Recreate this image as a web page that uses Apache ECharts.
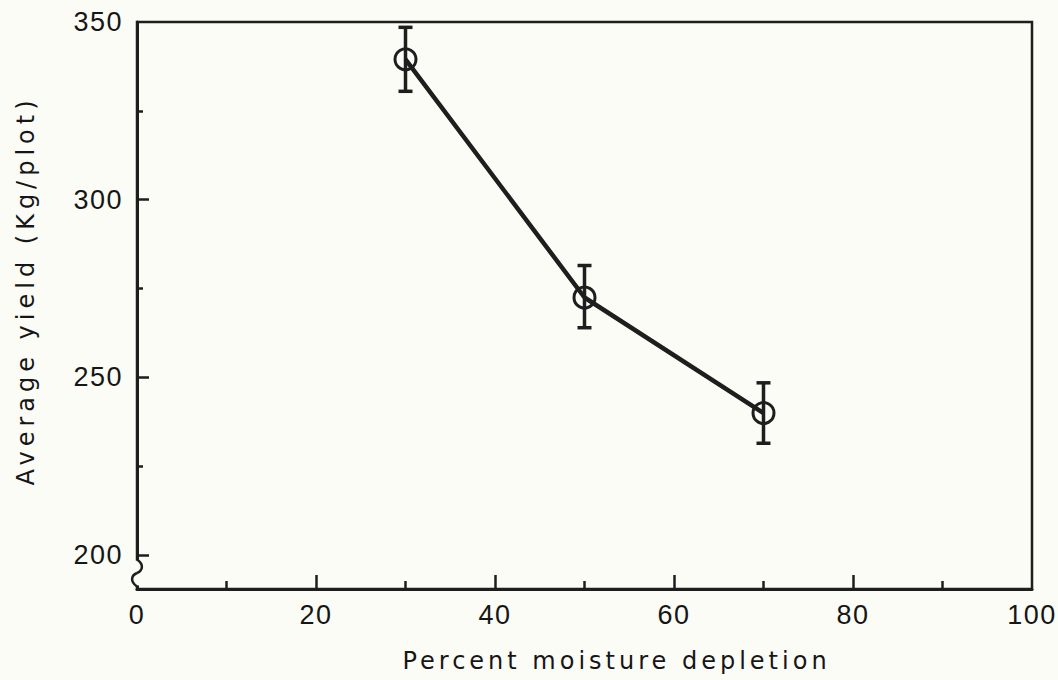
<!DOCTYPE html>
<html><head><meta charset="utf-8">
<script src="https://cdn.jsdelivr.net/npm/echarts@6/dist/echarts.min.js"></script>
<style>
html,body{margin:0;padding:0;background:#fcfcf6;}
#chart{width:1058px;height:680px;}
#chart svg text{letter-spacing:1.5px;}
</style></head><body><div id="chart"></div>
<script>
const moistureDepletion = [30, 50, 70];
const averageYield = [339.5, 272.5, 240];
const yieldLow = [330.5, 264, 231.5];
const yieldHigh = [348.5, 281.5, 248.5];
const xTickLabels = [0, 20, 40, 60, 80, 100];
const xMajorTicks = [20, 40, 60, 80];
const xMinorTicks = [10, 30, 50, 70, 90];
const yTickLabels = [200, 250, 300, 350];
const yMajorTicks = [200, 250, 300];
const yMinorTicks = [225, 275, 325];
const xTitle = 'Percent moisture depletion';
const yTitle = 'Average yield (Kg/plot)';

const INK = '#1e1e1e';
const BG = '#fcfcf6';
const labelFont = {fontSize: 27, color: '#161616', fontFamily: 'Liberation Sans'};
const titleFont = {fontSize: 24, color: '#161616', fontFamily: 'DejaVu Sans'};

const chart = echarts.init(document.getElementById('chart'), null, {renderer: 'svg'});

function xAx(major) {
  return {
    type: 'value', min: 0, max: 100, position: 'bottom',
    axisLine: {show: major, onZero: false, lineStyle: {color: INK, width: 3}},
    axisTick: {show: true, inside: true, length: major ? 14 : 8,
      customValues: major ? xMajorTicks : xMinorTicks, lineStyle: {color: INK, width: 2.5}},
    axisLabel: major ? Object.assign({customValues: xTickLabels, margin: 12}, labelFont) : {show: false},
    splitLine: {show: false},
    name: major ? xTitle : '', nameLocation: 'middle', nameGap: 60,
    nameTextStyle: Object.assign({padding: [0, 0, 0, 64]}, titleFont)
  };
}
function yAx(major) {
  return {
    type: 'value', min: 190.5, max: 350, position: 'left',
    axisLine: {show: major, onZero: false, lineStyle: {color: INK, width: 3}},
    axisTick: {show: true, inside: true, length: major ? 12 : 6,
      customValues: major ? yMajorTicks : yMinorTicks, lineStyle: {color: INK, width: 2.5}},
    axisLabel: major ? Object.assign({customValues: yTickLabels, margin: 14}, labelFont) : {show: false},
    splitLine: {show: false},
    name: major ? yTitle : '', nameLocation: 'middle', nameGap: 99,
    nameTextStyle: Object.assign({padding: [0, 0, 0, 30]}, titleFont)
  };
}

chart.setOption({
  animation: false,
  backgroundColor: BG,
  grid: {left: 137, right: 26, top: 22, bottom: 91, show: true, borderColor: INK, borderWidth: 2.5, backgroundColor: 'transparent'},
  xAxis: [xAx(true), xAx(false)],
  yAxis: [yAx(true), yAx(false)],
  series: [
    {
      type: 'custom', xAxisIndex: 0, yAxisIndex: 0,
      data: moistureDepletion.map((x, i) => [x, yieldLow[i], yieldHigh[i]]),
      encode: {x: 0, y: [1, 2]},
      renderItem: function (params, api) {
        const lo = api.coord([api.value(0), api.value(1)]);
        const hi = api.coord([api.value(0), api.value(2)]);
        const w = 7;
        const st = {stroke: INK, lineWidth: 3.5};
        return {type: 'group', children: [
          {type: 'line', shape: {x1: lo[0], y1: lo[1], x2: hi[0], y2: hi[1]}, style: st},
          {type: 'line', shape: {x1: lo[0] - w, y1: lo[1], x2: lo[0] + w, y2: lo[1]}, style: st},
          {type: 'line', shape: {x1: hi[0] - w, y1: hi[1], x2: hi[0] + w, y2: hi[1]}, style: st}
        ]};
      }
    },
    {
      type: 'line', xAxisIndex: 0, yAxisIndex: 0,
      data: moistureDepletion.map((x, i) => [x, averageYield[i]]),
      symbol: 'circle', symbolSize: 21,
      itemStyle: {color: 'rgba(0,0,0,0)', borderColor: INK, borderWidth: 3},
      lineStyle: {color: INK, width: 4.5}
    }
  ]
});

// axis-break squiggle on the y axis, placed through the axis scale
const pA = chart.convertToPixel({xAxisIndex: 0, yAxisIndex: 0}, [0, 198.5]);
const pB = chart.convertToPixel({xAxisIndex: 0, yAxisIndex: 0}, [0, 191.5]);
const x0 = pA[0], yA = pA[1], yB = pB[1], h = yB - yA, yM = yA + h / 2;
const sq = {fill: 'none', stroke: INK, lineWidth: 2.5};
chart.setOption({
  graphic: [
    {type: 'rect', shape: {x: x0 - 4, y: yA, width: 8, height: h}, style: {fill: BG}, z: 100},
    {type: 'bezierCurve', z: 101,
      shape: {x1: x0, y1: yA - 1, cpx1: x0 + 7, cpy1: yA + h * 0.15, cpx2: x0 + 6, cpy2: yM - h * 0.1, x2: x0, y2: yM},
      style: sq},
    {type: 'bezierCurve', z: 101,
      shape: {x1: x0, y1: yM, cpx1: x0 - 6, cpy1: yM + h * 0.1, cpx2: x0 - 7, cpy2: yB - h * 0.15, x2: x0, y2: yB + 1},
      style: sq}
  ]
});

function spaceTitles() {
  document.querySelectorAll('#chart svg text').forEach(t => {
    const s = t.textContent;
    if (s === xTitle) t.style.letterSpacing = '4px';
    else if (s === yTitle) t.style.letterSpacing = '5px';
  });
}
chart.on('finished', spaceTitles);
spaceTitles();
setTimeout(spaceTitles, 0);
</script></body></html>
